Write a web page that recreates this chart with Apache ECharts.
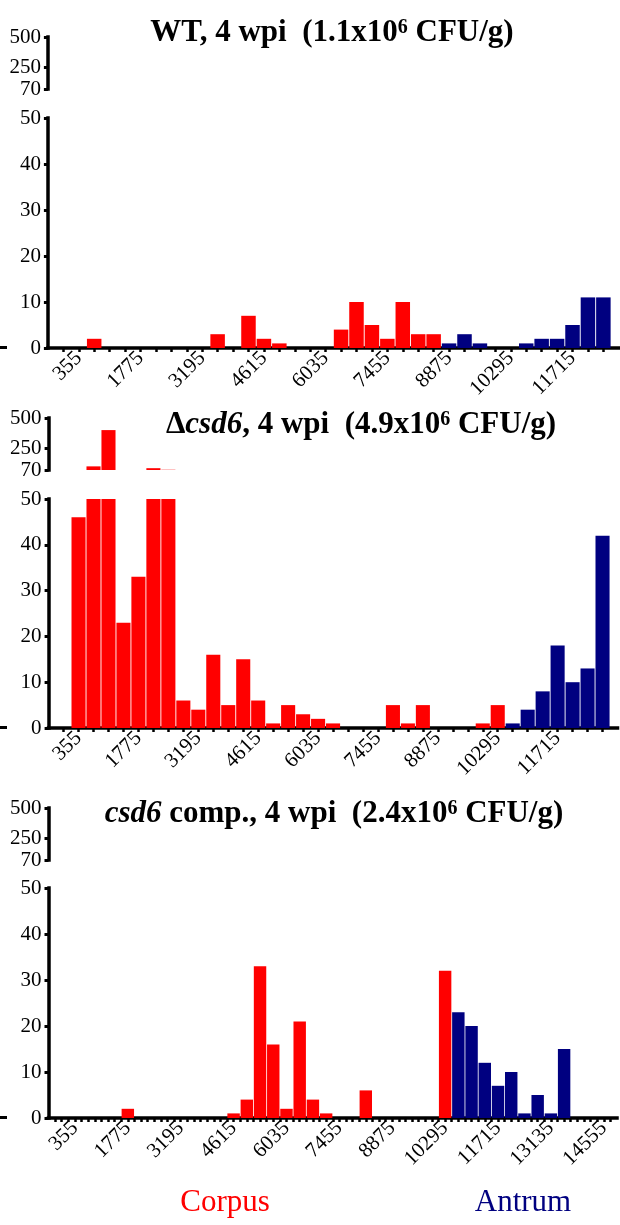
<!DOCTYPE html>
<html>
<head>
<meta charset="utf-8">
<script src="https://cdn.jsdelivr.net/npm/echarts@6/dist/echarts.min.js"></script>
<style>
  html, body { margin: 0; padding: 0; background: #fff; }
  #chart { width: 620px; height: 1225px; }
</style>
</head>
<body>
<div id="chart"></div>
<script>
// Bin width along the genome (bp); bin i sits at i * BIN_BP
const BIN_BP = 355;

// WT, 4 wpi — counts per bin, corpus bins start at 0, antrum bins follow
const wtCorpus = [0, 0, 2, 0, 0, 0, 0, 0, 0, 0, 3, 0, 7, 2, 1, 0, 0, 0, 4, 10, 5, 2, 10, 3, 3];
const wtAntrum = [1, 3, 1, 0, 0, 1, 2, 2, 5, 11, 11];

// Δcsd6, 4 wpi
const dCorpus = [0, 46, 100, 400, 23, 33, 85, 72, 6, 4, 16, 5, 15, 6, 1, 5, 3, 2, 1, 0, 0, 0, 5, 1, 5, 0, 0, 0, 1, 5];
const dAntrum = [1, 4, 8, 18, 10, 13, 42];

// csd6 comp., 4 wpi
const cCorpus = [0, 0, 0, 0, 0, 2, 0, 0, 0, 0, 0, 0, 0, 1, 4, 33, 16, 2, 21, 4, 1, 0, 0, 6, 0, 0, 0, 0, 0, 32];
const cAntrum = [23, 20, 12, 7, 10, 1, 5, 1, 15];

// Broken y axis: upper segment ticks and lower segment range
const upperTicks = [70, 250, 500];
const lowerMax = 50;
const lowerStep = 10;

// Number of bins spanned by each x axis
const wtAxisBins = 36;
const dAxisBins = 37;
const cAxisBins = 42;

const RED = '#ff0000';
const NAVY = '#000080';
const SERIF = '"Liberation Serif", "Times New Roman", serif';

// ticksPerBin: 2 puts an extra tick mark half way between bins
const panels = [
  { corpus: wtCorpus, antrum: wtAntrum, axisBins: wtAxisBins, ticksPerBin: 1,
    title: '{b|WT, 4 wpi  (1.1x10}{s|6}{b| CFU/g)}',
    box: { left: 47.9, right: 618.8, upTop: 37, upBot: 89, loTop: 118, loBot: 348, tx: 332, ty: 33 } },
  { corpus: dCorpus, antrum: dAntrum, axisBins: dAxisBins, ticksPerBin: 1,
    title: '{b|Δ}{bi|csd6}{b|, 4 wpi  (4.9x10}{s|6}{b| CFU/g)}',
    box: { left: 48.6, right: 617.5, upTop: 418, upBot: 470, loTop: 499, loBot: 728, tx: 361, ty: 425 } },
  { corpus: cCorpus, antrum: cAntrum, axisBins: cAxisBins, ticksPerBin: 2,
    title: '{bi|csd6}{b| comp., 4 wpi  (2.4x10}{s|6}{b| CFU/g)}',
    box: { left: 48.5, right: 617, upTop: 808, upBot: 860, loTop: 888, loBot: 1118, tx: 334, ty: 814 } }
];

const grids = [], xAxes = [], yAxes = [], series = [], graphics = [];

const titleRich = {
  b: { fontFamily: SERIF, fontWeight: 'bold', fontSize: 31, fill: '#000' },
  bi: { fontFamily: SERIF, fontWeight: 'bold', fontStyle: 'italic', fontSize: 31, fill: '#000' },
  s: { fontFamily: SERIF, fontWeight: 'bold', fontSize: 20, fill: '#000', verticalAlign: 'top' }
};

panels.forEach((p, pi) => {
  const b = p.box;
  const E = p.axisBins;
  const t = p.ticksPerBin;
  // category k sits at bin position k / t - 1; the ends pad the axis to the y axis and the right edge
  const cats = [];
  const binOf = (k) => (k % t === 0 ? k / t - 1 : null);
  for (let k = 0; k <= (E + 1) * t; k++) {
    const i = binOf(k);
    cats.push(i === null ? '' : String(i * BIN_BP));
  }
  const corpusData = cats.map((_, k) => {
    const i = binOf(k);
    return i !== null && i >= 0 && i < p.corpus.length ? p.corpus[i] : null;
  });
  const antrumData = cats.map((_, k) => {
    const i = binOf(k);
    const j = i === null ? -1 : i - p.corpus.length;
    return j >= 0 && j < p.antrum.length ? p.antrum[j] : null;
  });

  const width = b.right - b.left;
  const gUp = grids.length;
  grids.push({ left: b.left, top: b.upTop, width: width, height: b.upBot - b.upTop });
  const gLo = grids.length;
  grids.push({ left: b.left, top: b.loTop, width: width, height: b.loBot - b.loTop });

  const axisLine = { show: true, lineStyle: { color: '#000', width: 3.5, cap: 'square' } };
  const tickStyle = { color: '#000', width: 3 };
  const labelStyle = { color: '#000', fontFamily: SERIF, fontSize: 21 };
  const barW = (94 * t) + '%';
  const firstTick = t > 1 ? 1 : t;

  // upper x axis (hidden, shares positions)
  xAxes.push({
    type: 'category', gridIndex: gUp, data: cats, boundaryGap: false,
    show: false
  });
  xAxes.push({
    type: 'category', gridIndex: gLo, data: cats, boundaryGap: false,
    axisLine: axisLine,
    axisTick: { show: true, length: 4, lineStyle: { color: '#000', width: 2.5 },
      interval: (k) => k >= firstTick && k < (E + 1) * t },
    axisLabel: {
      color: '#000', fontFamily: SERIF, fontSize: 21, rotate: 45, margin: 7,
      interval: (k) => {
        const i = binOf(k);
        return i !== null && i >= 1 && i < E && (i - 1) % 4 === 0;
      }
    },
    splitLine: { show: false }
  });

  yAxes.push({
    type: 'value', gridIndex: gUp, min: upperTicks[0], max: upperTicks[upperTicks.length - 1],
    axisLine: axisLine,
    axisTick: { show: true, length: 4, lineStyle: tickStyle, customValues: upperTicks },
    axisLabel: Object.assign({ margin: 7, customValues: upperTicks }, labelStyle),
    splitLine: { show: false }
  });
  yAxes.push({
    type: 'value', gridIndex: gLo, min: 0, max: lowerMax, interval: lowerStep,
    axisLine: axisLine,
    axisTick: { show: true, length: 4, lineStyle: tickStyle },
    axisLabel: Object.assign({ margin: 7 }, labelStyle),
    splitLine: { show: false }
  });

  const xUp = pi * 2, xLo = pi * 2 + 1;
  [xUp, xLo].forEach((ax) => {
    series.push({
      type: 'bar', xAxisIndex: ax, yAxisIndex: ax, data: corpusData,
      barWidth: barW, barGap: '-100%', clip: true,
      itemStyle: { color: RED }, silent: true, animation: false
    });
    series.push({
      type: 'bar', xAxisIndex: ax, yAxisIndex: ax, data: antrumData,
      barWidth: barW, barGap: '-100%', clip: true,
      itemStyle: { color: NAVY }, silent: true, animation: false
    });
  });

  graphics.push({
    type: 'text', x: b.tx, y: b.ty,
    style: { text: p.title, rich: titleRich, align: 'center', verticalAlign: 'middle' }
  });
  // short stroke at the far left edge at the zero level
  graphics.push({
    type: 'rect', shape: { x: 0, y: b.loBot - 2, width: 7, height: 3 },
    style: { fill: '#000' }
  });
});

graphics.push({
  type: 'text', x: 225, y: 1203,
  style: { text: 'Corpus', fill: RED, font: '31px ' + SERIF, align: 'center', verticalAlign: 'middle' }
});
graphics.push({
  type: 'text', x: 523, y: 1203,
  style: { text: 'Antrum', fill: NAVY, font: '31px ' + SERIF, align: 'center', verticalAlign: 'middle' }
});

const chart = echarts.init(document.getElementById('chart'), null, { renderer: 'canvas' });
chart.setOption({
  animation: false,
  backgroundColor: '#fff',
  grid: grids,
  xAxis: xAxes,
  yAxis: yAxes,
  series: series,
  graphic: graphics
});
</script>
</body>
</html>
